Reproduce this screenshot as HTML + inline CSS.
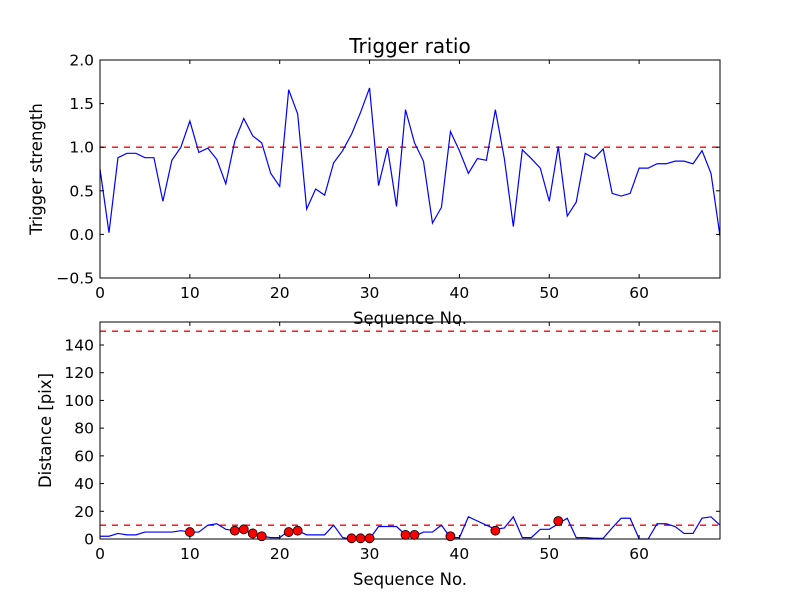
<!DOCTYPE html>
<html><head><meta charset="utf-8"><style>
body{margin:0;background:#fff}
svg text{font-family:"DejaVu Sans","Liberation Sans",sans-serif;fill:#000}
</style></head><body>
<svg id="c" width="800" height="600" xmlns="http://www.w3.org/2000/svg"></svg>
<script>
const seq = Array.from({length:70},(_,i)=>i);
const ratio = [0.75,0.02,0.88,0.93,0.93,0.88,0.88,0.38,0.85,1.0,1.3,0.94,0.99,0.86,0.58,1.07,1.33,1.13,1.05,0.7,0.55,1.66,1.38,0.29,0.52,0.45,0.82,0.96,1.15,1.4,1.68,0.56,0.99,0.32,1.43,1.05,0.84,0.13,0.31,1.18,0.96,0.7,0.87,0.85,1.43,0.87,0.09,0.97,0.87,0.76,0.38,1.01,0.21,0.37,0.93,0.87,0.98,0.47,0.44,0.47,0.76,0.76,0.81,0.81,0.84,0.84,0.81,0.96,0.7,-0.02];
const distance = [2,2,4,3,3,5,5,5,5,6,5,5,10,11,7,6,6,4,2,1,1,6,6,3,3,3,10,1,0,0,0,9,9,9,3,2,5,5,10,1,1,16,13,10,7,8,16,1,1,7,7,11,15,1,1,0.5,0.5,8,15,15,0,0,11,11,9,4,4,15,16,10];
const markX = [10,15,16,17,18,21,22,28,29,30,34,35,39,44,51];
const markY = [5,6,7,4,2,5,6,0.5,0.5,0.5,3,3,2,6,13];
const xTicks = [0,10,20,30,40,50,60];
const topTicks = [-0.5,0,0.5,1.0,1.5,2.0];
const botTicks = [0,20,40,60,80,100,120,140];
const ratioThreshold = 1.0, distThresholds = [10,150];

const svg = document.getElementById('c'), NS='http://www.w3.org/2000/svg';
function mk(tag, attrs, parent){const e=document.createElementNS(NS,tag);for(const k in attrs)e.setAttribute(k,attrs[k]);(parent||svg).appendChild(e);return e;}
const X0=100,X1=720;
const xs = v => X0 + v/69*(X1-X0);
function panel(name, top, bot, ymin, ymax, ticks, fmt, ylabel, ylx, data, thresholds, withTitle){
  const ys = v => bot - (v-ymin)/(ymax-ymin)*(bot-top);
  const g = mk('g',{});
  
  
  thresholds.forEach(t=>{
    const l = mk('line',{x1:X0,x2:X1,y1:ys(t),y2:ys(t),stroke:'#f00','stroke-width':1.4,'stroke-dasharray':'6,6'},g);
    
    
  });
  const p = mk('polyline',{points:data.map((v,i)=>xs(seq[i])+','+ys(v)).join(' '),fill:'none',stroke:'#00f','stroke-width':1.2},g);
  
  
  const f = mk('rect',{x:X0,y:top,width:X1-X0,height:bot-top,fill:'none',stroke:'#000','stroke-width':1},g);
  
  
  xTicks.forEach(t=>{
    const x=xs(t);
    mk('line',{x1:x,x2:x,y1:bot,y2:bot-4,stroke:'#000'},g);
    mk('line',{x1:x,x2:x,y1:top,y2:top+4,stroke:'#000'},g);
    const tx=mk('text',{x:x,y:bot+20,'text-anchor':'middle','font-size':15.5},g);tx.textContent=t;
    
    
  });
  ticks.forEach(t=>{
    const y=ys(t);
    mk('line',{x1:X0,x2:X0+4,y1:y,y2:y,stroke:'#000'},g);
    mk('line',{x1:X1,x2:X1-4,y1:y,y2:y,stroke:'#000'},g);
    const tx=mk('text',{x:X0-6,y:y+5.5,'text-anchor':'end','font-size':15.5},g);tx.textContent=fmt(t);
    
    
  });
  const xl=mk('text',{x:(X0+X1)/2,y:bot+46,'text-anchor':'middle','font-size':16.5},g);xl.textContent='Sequence No.';
  
  
  const cy=(top+bot)/2;
  const yl=mk('text',{x:ylx,y:cy,'text-anchor':'middle','font-size':16.5,transform:`rotate(-90 ${ylx} ${cy})`},g);yl.textContent=ylabel;
  
  
  if(withTitle){
    const t=mk('text',{x:(X0+X1)/2,y:top-7,'text-anchor':'middle','font-size':20},g);t.textContent='Trigger ratio';
    
    
  }
  return ys;
}
panel('top-panel',60,278,-0.5,2.0,topTicks,t=>t.toFixed(1).replace('-','\u2212'),'Trigger strength',42,ratio,[ratioThreshold],true);
const ysB = panel('bottom-panel',322,539,0,156.6,botTicks,t=>String(t),'Distance [pix]',51,distance,distThresholds,false);
markX.forEach((x,i)=>{
  const c=mk('circle',{cx:xs(x),cy:ysB(markY[i]),r:4.5,fill:'#f00',stroke:'#000','stroke-width':0.8});
  
  
});
</script>
</body></html>
